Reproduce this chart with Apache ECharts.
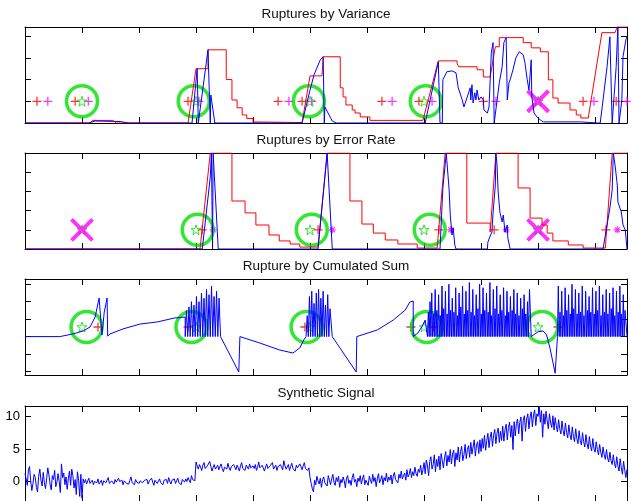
<!DOCTYPE html>
<html>
<head>
<meta charset="utf-8">
<script src="https://cdn.jsdelivr.net/npm/echarts@6/dist/echarts.min.js"></script>
<style>
  html, body { margin: 0; padding: 0; background: #fff; }
  #chart { width: 631px; height: 501px; }
</style>
</head>
<body>
<div id="chart"></div>
<script>
  // x is the sample index of the synthetic signal (0 .. 1056)
  const xMax = 1056
  const truth = [100, 300, 500, 700, 900]

  // --- Ruptures by Variance ---
  const varRed = [[0,0],[114,0],[119,0.12],[154,0.12],[160,0],[286,0],[300,2.5],[321,2.5],[321,3.37],[353,3.37],
    [353,2.0],[363,2.0],[363,1.06],[372,1.06],[372,0.7],[381,0.7],[381,0.37],[389,0.37],[389,0.21],[400,0.21],
    [400,0.05],[486,0.02],[500,2.17],[521,2.17],[523,3.05],[553,3.05],[553,1.62],[558,1.62],[558,1.2],[563,1.2],
    [563,0.83],[574,0.83],[574,0.6],[579,0.6],[579,0.46],[588,0.46],[588,0.28],[605,0.28],[605,0.12],[698,0.12],
    [725,2.86],[758,2.86],[758,2.73],[761,2.59],[793,2.59],[793,2.45],[804,2.45],[804,2.12],[816,2.12],[825,3.51],
    [832,3.51],[832,3.93],[874,3.93],[874,3.7],[888,3.7],[888,3.46],[904,3.46],[904,3.28],[918,3.28],[918,1.99],
    [926,1.99],[926,1.15],[935,1.15],[935,0.92],[956,0.92],[956,0.6],[967,0.6],[967,0.37],[975,0.37],[975,0.23],
    [988,0.23],[1012,4.16],[1035,4.16],[1039,4.43],[1056,4.43]]
  const varBlue = [[0,0],[111,0],[123,0.09],[167,0.07],[181,0],[293,0],[302,2.5],[304,0],[305,0],[321,3.37],
    [325,0],[326,1.29],[333,0],[486,0],[500,1.52],[507,2.22],[518,2.91],[523,3.05],[525,0],[526,0.74],
    [539,0.09],[546,0],[702,0],[725,2.82],[728,0],[732,0],[733,1.99],[740,2.36],[749,2.4],[756,2.31],
    [760,1.62],[767,1.06],[770,0.74],[774,1.06],[777,1.15],[781,1.62],[782,1.06],[784,1.76],[786,0.92],[789,1.39],
    [791,1.06],[793,1.52],[796,1.06],[800,1.2],[804,1.06],[805,0.6],[811,0.46],[814,0.74],[818,3.23],[821,3.7],
    [823,0],[826,0],[832,1.85],[837,2.59],[840,3.7],[844,3.93],[846,1.06],[849,1.85],[851,1.99],[856,2.45],
    [861,3.0],[867,3.28],[874,3.14],[877,2.77],[881,1.99],[884,1.52],[888,2.91],[889,1.2],[893,0.46],[898,0.28],
    [904,0.14],[909,0.05],[974,0.05],[1005,0],[1009,0],[1014,1.06],[1021,2.59],[1026,3.97],[1030,0],[1032,0],
    [1037,2.59],[1040,4.43],[1042,0],[1047,1.06],[1049,3.05],[1054,3.83],[1056,3.97]]
  const varLevel = 1
  const varRedHits = [21, 88, 286, 444, 486, 626, 691, 804, 979, 1037]
  const varMagHits = [40, 111, 305, 463, 503, 644, 714, 826, 998, 1056]
  const varFound = [100, 296, 498, 703]
  const varMissed = [900]

  // --- Ruptures by Error Rate ---
  const errRed = [[0,0],[307,0],[325,5],[363,5],[363,2.5],[386,2.5],[386,1.88],[405,1.88],[405,1.25],[428,1.25],
    [428,0.73],[446,0.73],[446,0.42],[465,0.42],[465,0.26],[482,0.26],[482,0.1],[514,0.1],[530,5],[570,5],
    [570,2.5],[591,2.5],[591,1.3],[611,1.3],[611,0.83],[632,0.83],[632,0.47],[654,0.47],[654,0.26],[688,0.26],
    [688,0.05],[723,0.05],[737,5],[775,5],[775,1.35],[816,1.35],[816,0.88],[819,0.88],[826,5],[865,5],
    [865,3.18],[886,3.18],[886,1.61],[907,1.61],[907,1.25],[916,1.25],[916,0.83],[926,0.83],[926,0.42],[953,0.42],
    [953,0.21],[979,0.21],[979,0.05],[1018,0.05],[1030,5],[1056,5]]
  const errBlue = [[0,0],[311,0],[325,3.75],[327,5],[329,0],[330,5],[339,0],[514,0],[526,3.75],[530,5],
    [532,5],[539,0],[728,0],[733,3.18],[739,5],[740,4.6],[744,3.07],[746,1.77],[749,0.73],[751,1.1],
    [754,0.2],[756,0],[811,0],[812,0.36],[816,0.68],[819,0.88],[821,1.88],[825,3.33],[826,5],[828,4.38],
    [830,2.97],[833,1.93],[837,1.41],[839,1.77],[842,0.88],[846,1.25],[847,0.57],[851,0],[1014,0],[1021,1.25],
    [1026,2.14],[1030,3.07],[1032,5],[1035,4.38],[1039,3.33],[1040,2.45],[1046,1.93],[1049,1.25],[1053,0.99],[1056,0]]
  const errLevel = 1
  const errRedHits = [311, 514, 726, 823, 1019]
  const errMagHits = [330, 539, 747, 844, 1039]
  const errFound = [303, 503, 710]
  const errMissed = [100, 900]

  // --- Rupture by Cumulated Sum ---
  const sumLead = [[0,0],[61,0],[84,0.15],[102,0.32],[114,0.55],[123,1.12],[130,2.21],[135,0.09],[139,1.4],[144,2.21],
    [145,0.03],[149,0.15],[172,0.44],[202,0.72],[232,0.84],[263,1.07],[281,1.12]]
  const sumMid1 = [[343,0],[375,-2.03],[377,0],[412,-0.37],[447,-0.77],[470,-0.94],[482,-0.65],[489,-0.19],[493,0]]
  const sumMid2 = [[539,0],[581,-2.03],[582,0],[618,0.38],[646,0.95],[667,1.52],[675,1.98],[681,2.04],[681,0],[689,0.2],
    [696,0.55],[702,0.95],[706,0]]
  const sumMid3 = [[883,0],[885,2.7],[888,0],[891,0],[900,0.28],[909,0.32],[915,0.09],[921,-0.67],[930,-2.1],[934,0]]
  const sumTail = [[1056,0]]
  // peaks of the oscillating stretches (troughs sit on 0)
  const burst1 = [1.5,1.7,2.0,1.8,2.3,2.0,2.5,2.2,2.7,2.4,2.9,2.3,2.6,2.2]
  const burst2 = [1.2,2.3,2.6,1.9,2.5,2.7,2.2,2.6,1.8,2.4,1.6]
  const burst3 = [1.4,2.0,2.5,1.3,2.7,1.5,2.4,1.2,2.9,1.6,
    2.6,1.3,3.0,1.5,2.2,1.4,2.8,1.2,2.5,1.7,
    2.9,1.3,2.6,1.5,3.1,1.4,2.7,1.2,2.4,1.6,
    3.0,1.3,2.8,1.5,2.5,1.4,3.1,1.2,2.7,1.6,
    2.9,1.3,2.4,1.5,2.8,1.2,2.6,1.4,2.3,1.5,
    2.7,1.3,2.5,1.2,2.2,1.6,2.4,1.3,2.0]
  const burst4 = [2.9,1.4,2.6,1.2,2.8,1.5,2.4,1.3,3.0,1.6,
    2.7,1.3,2.5,1.4,2.9,1.2,2.6,1.5,2.3,1.4,
    2.8,1.3,2.6,1.5,2.9,1.2,2.4,1.4,2.7,1.3,
    2.5,1.6,2.8,1.2,2.6,1.4,2.9,1.3,2.4,1.5]
  const sumLevel = 0.55
  const sumRedHits = [128, 286, 491, 677, 716, 935]
  const sumFound = [108, 292, 494, 705, 907]

  // --- Synthetic Signal, one value every 2 samples, 50 per row (100 samples) ---
  const signalStep = 2
  const signal = [
    1.2,0.4,-0.6,1.8,2.3,0.1,-1.4,-0.3,1.1,0.6,-0.9,-1.6,0.8,1.9,0.2,-0.7,1.4,-0.2,-1.1,0.5,
    2.1,1.0,-0.4,-1.3,0.9,0.3,1.7,-0.8,-0.1,1.2,0.0,-1.7,2.7,0.6,1.3,-0.5,0.7,-1.2,0.4,1.6,
    -0.6,1.9,0.9,-1.0,0.3,-2.0,1.5,0.2,-2.3,1.1,
    -2.6,0.4,-0.2,0.3,-0.4,0.1,0.5,-0.3,-0.1,0.2,-0.5,0.0,0.3,-0.2,0.4,-0.4,-0.1,0.2,-0.6,0.1,
    0.3,-0.2,0.0,0.6,-0.3,-0.5,0.1,0.2,-0.4,0.3,-0.1,-0.3,0.5,0.0,-0.2,0.2,-0.5,0.1,0.4,-0.3,
    0.0,-0.4,0.2,0.7,-0.2,0.1,-0.5,0.3,-0.1,0.2,
    -0.3,0.1,0.4,-0.2,-0.5,0.2,0.0,0.3,-0.4,0.1,-0.2,0.5,-0.1,-0.6,0.2,0.3,-0.3,0.0,0.4,-0.2,
    0.1,-0.5,0.2,-0.1,0.3,-0.3,0.6,0.0,-0.4,0.2,-0.1,0.4,-0.3,0.1,0.5,-0.2,0.0,-0.5,0.3,0.2,
    -0.1,0.4,0.0,0.6,0.2,-0.2,0.9,0.3,0.5,0.1,
    3.0,2.4,1.9,2.6,2.2,1.7,2.5,2.9,2.0,1.8,2.4,2.1,3.1,2.3,1.6,2.2,2.6,1.9,2.0,2.5,
    1.8,2.3,2.7,2.0,1.5,2.2,2.4,1.9,2.8,2.1,1.7,2.3,2.0,2.6,2.2,1.8,2.5,2.1,1.6,2.4,
    2.9,2.0,2.2,1.7,2.5,2.3,1.9,2.7,2.1,1.8,
    2.4,2.0,2.6,1.7,2.2,3.0,2.1,1.9,2.5,2.3,1.6,2.2,2.7,2.0,1.8,2.4,2.2,2.9,1.9,2.1,
    2.5,1.7,2.3,2.0,2.6,2.2,1.8,3.2,2.4,1.9,2.1,2.6,1.7,2.3,2.8,2.0,2.2,1.6,2.5,2.1,
    1.9,2.7,2.3,1.8,2.4,2.9,2.0,2.2,1.7,2.1,
    0.6,-0.3,-1.1,-1.6,0.2,-0.5,0.8,0.1,-0.4,0.5,-0.9,0.3,0.7,-0.2,0.1,-0.7,0.9,0.2,-0.5,0.4,
    1.1,-0.1,-0.6,0.6,0.0,0.8,-0.9,0.3,-0.2,0.7,0.1,-1.0,0.5,0.9,-0.3,0.2,-0.6,0.6,1.2,-0.1,
    0.3,-0.8,0.5,0.0,0.9,-0.4,0.4,1.0,-0.5,0.2,
    0.5,-0.6,0.8,0.2,-0.3,1.1,0.0,0.6,-0.8,0.4,1.2,-0.2,0.3,0.9,-0.5,0.6,0.1,1.3,-0.1,0.7,
    0.2,1.0,-0.4,0.8,1.4,0.3,0.6,-0.2,1.1,0.5,1.6,0.4,0.9,1.3,0.2,1.8,0.7,1.1,2.0,0.6,
    1.5,0.9,2.2,1.2,0.8,1.9,1.4,2.5,1.0,1.8,
    2.9,1.2,3.3,2.4,0.9,3.1,3.8,1.9,2.6,4.1,1.5,3.4,2.3,3.9,1.8,4.3,3.2,2.1,3.7,4.6,
    2.4,4.0,3.0,4.9,2.7,4.2,4.8,2.3,4.4,3.3,5.3,3.0,4.6,5.4,3.2,4.1,5.7,3.5,4.9,5.5,
    3.7,6.0,4.2,5.3,6.4,3.9,5.6,6.1,4.3,6.4,
    4.6,6.6,5.1,7.1,4.8,6.3,7.4,5.2,6.8,7.6,5.4,7.1,8.0,5.8,7.4,8.2,6.0,7.7,6.3,8.5,
    6.2,8.0,8.8,6.4,8.3,9.1,6.8,8.6,4.9,9.2,7.0,8.9,9.6,7.3,9.1,9.9,6.2,9.4,10.1,7.7,
    9.6,10.4,8.1,9.9,10.7,8.4,10.2,11.0,8.6,10.4,
    10.0,11.5,9.1,10.9,6.8,10.4,8.8,10.8,9.3,8.1,10.4,9.0,8.3,10.1,7.9,9.8,8.6,7.6,9.5,8.1,
    7.3,9.3,7.8,7.0,9.0,7.5,6.7,8.7,7.2,6.4,8.4,6.9,6.1,8.1,6.6,5.8,7.8,6.3,5.6,7.5,
    6.1,5.3,7.2,5.8,5.0,6.9,5.4,4.7,6.6,5.1,
    4.5,6.1,4.9,4.1,5.7,4.5,3.7,5.3,4.1,3.4,4.9,3.6,3.0,4.5,3.2,2.6,4.1,2.8,2.1,3.8,
    2.4,1.6,3.5,2.1,1.1,3.1,1.7,0.6,1.9
  ]

  const RED = '#ff0000', BLUE = '#0000ff', MAG = '#ff00ff', GREEN = '#00e000'
  const FONT = '"Liberation Sans", Arial, Helvetica, sans-serif'
  const PLUS = 'path://M0,5L10,5M5,0L5,10'
  const ASTER = 'path://M0,5L10,5M5,0L5,10M1.5,1.5L8.5,8.5M8.5,1.5L1.5,8.5'
  const CROSS = 'path://M0,0L10,10M10,0L0,10'
  const STAR = 'path://M50,2L61.2,36.5L97.6,36.5L68.2,57.9L79.4,92.5L50,71.1L20.6,92.5L31.8,57.9L2.4,36.5L38.8,36.5Z'

  function burst(start, period, peaks) {
    const pts = []
    peaks.forEach((p, k) => {
      pts.push([start + k * period, 0])
      pts.push([start + k * period + period / 2, p])
    })
    return pts
  }

  const sumBlue = [].concat(sumLead, burst(281, 4.4, burst1), sumMid1, burst(493, 4, burst2),
    sumMid2, burst(706, 3, burst3), sumMid3, burst(934, 3, burst4), sumTail)
  const signalLine = signal.map((v, i) => [i * signalStep, v])

  const panels = [
    {title: 'Ruptures by Variance', top: 27, height: 96, min: 0, max: 4.42, ticks: [0, 1, 2, 3, 4], labels: false},
    {title: 'Ruptures by Error Rate', top: 153, height: 96, min: 0, max: 5, ticks: [0, 1, 2, 3, 4, 5], labels: false},
    {title: 'Rupture by Cumulated Sum', top: 279, height: 96, min: -2.2, max: 3.3, ticks: [-2, -1, 0, 1, 2, 3], labels: false},
    {title: 'Synthetic Signal', top: 406, height: 98, min: -3, max: 11.6, ticks: [0, 5, 10], labels: true}
  ]

  const grids = [], xAxes = [], yAxes = [], titles = [], series = []
  panels.forEach((p, i) => {
    grids.push({left: 25, right: 4, top: p.top, height: p.height, show: false})
    titles.push({
      text: p.title, left: 326, top: p.top - 20, textAlign: 'center', padding: 0,
      textStyle: {fontSize: 13.5, fontWeight: 'normal', color: '#111', fontFamily: FONT}
    });
    ['bottom', 'top'].forEach(pos => {
      xAxes.push({
        gridIndex: i, type: 'value', position: pos, min: 0, max: xMax, interval: 100,
        axisLine: {show: true, onZero: false, lineStyle: {color: '#000', width: 1}},
        axisTick: {show: true, inside: true, length: 6, lineStyle: {color: '#000'}},
        axisLabel: {show: false}, splitLine: {show: false}
      })
    });
    ['left', 'right'].forEach(pos => {
      yAxes.push({
        gridIndex: i, type: 'value', position: pos, min: p.min, max: p.max,
        axisLine: {show: true, onZero: false, lineStyle: {color: '#000', width: 1}},
        axisTick: {show: true, inside: true, length: 6, customValues: p.ticks, lineStyle: {color: '#000'}},
        axisLabel: {
          show: p.labels && pos === 'left', customValues: p.ticks, margin: 5,
          color: '#000', fontSize: 13, fontFamily: FONT
        },
        splitLine: {show: false}
      })
    })
  })

  function line(i, data, color) {
    return {
      type: 'line', xAxisIndex: 2 * i, yAxisIndex: 2 * i, data: data, showSymbol: false,
      lineStyle: {color: color, width: 1}, itemStyle: {color: color}, clip: true, silent: true
    }
  }
  function marks(i, xs, level, symbol, size, color, width) {
    return {
      type: 'scatter', xAxisIndex: 2 * i, yAxisIndex: 2 * i, data: xs.map(x => [x, level]),
      symbol: symbol, symbolSize: size, clip: false, silent: true,
      itemStyle: {color: 'transparent', borderColor: color, borderWidth: width}
    }
  }

  series.push(line(0, varRed, RED), line(0, varBlue, BLUE))
  series.push(marks(0, varRedHits, varLevel, PLUS, 9, RED, 1.3))
  series.push(marks(0, varMagHits, varLevel, PLUS, 9, MAG, 1.3))
  series.push(marks(0, varFound, varLevel, 'circle', 31, GREEN, 3.5))
  series.push(marks(0, truth, varLevel, STAR, 10, GREEN, 1))
  series.push(marks(0, varMissed, varLevel, CROSS, 21, MAG, 4))

  series.push(line(1, errRed, RED), line(1, errBlue, BLUE))
  series.push(marks(1, errRedHits, errLevel, PLUS, 9, RED, 1.3))
  series.push(marks(1, errMagHits, errLevel, ASTER, 7, MAG, 1.2))
  series.push(marks(1, errFound, errLevel, 'circle', 31, GREEN, 3.5))
  series.push(marks(1, truth, errLevel, STAR, 10, GREEN, 1))
  series.push(marks(1, errMissed, errLevel, CROSS, 21, MAG, 4))

  series.push(line(2, sumBlue, BLUE))
  series.push(marks(2, sumRedHits, sumLevel, PLUS, 9, RED, 1.3))
  series.push(marks(2, sumFound, sumLevel, 'circle', 31, GREEN, 3.5))
  series.push(marks(2, truth, sumLevel, STAR, 10, GREEN, 1))

  series.push(line(3, signalLine, BLUE))

  const chart = echarts.init(document.getElementById('chart'), null, {renderer: 'canvas'})
  chart.setOption({
    animation: false,
    backgroundColor: '#fff',
    title: titles,
    grid: grids,
    xAxis: xAxes,
    yAxis: yAxes,
    series: series
  })
</script>
</body>
</html>
